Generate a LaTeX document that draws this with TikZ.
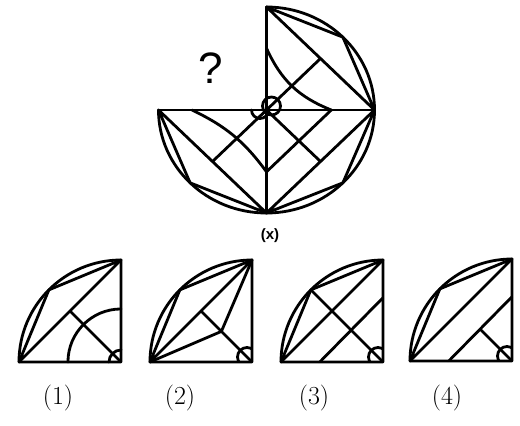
\documentclass[tikz,border=0pt]{standalone}
\usepackage{fontspec}
\setsansfont{Liberation Sans}
\usepackage{tikz}

\begin{document}
\begin{tikzpicture}[x=1pt, y=1pt,
    fig/.style={line width=2.8pt, line join=round, line cap=round},
    lab/.style={font=\fontsize{26}{28}\selectfont}]
    \useasboundingbox (0,0) rectangle (520,-426);

    % question figure
    \begin{scope}[shift={(266.5pt,-110pt)}, x=108pt, y=103pt, fig]
        \draw (0,1) arc[start angle=90, end angle=-180, radius=1];
        \draw (-1,0) -- (1,0);
        \draw (0,1) -- (0,-1);
        % chords near the arc
        \draw (0,1) -- (45:1) -- (1,0) -- cycle;
        \draw (1,0) -- (-45:1) -- (0,-1) -- cycle;
        \draw (-1,0) -- (-135:1) -- (0,-1) -- cycle;
        % lines from the centre
        \draw (0,0) -- (0.5,0.5);
        \draw (0,0) -- (0.5,-0.5);
        \draw (0,0) -- (-0.5,-0.5);
        % inner curves
        \draw (0,0.6) to[bend right=22] (0.6,0) -- (0,-0.6);
        \draw (-0.69,0) to[bend left=14] (0,-0.6);
        % small circles
        \draw (5pt,4pt) circle[radius=9pt];
        \draw (-15pt,0pt) arc[start angle=180, end angle=360, radius=8.5pt];
    \end{scope}
    \node[font=\sffamily\fontsize{44}{44}\selectfont] (ques) at (211,-68) {?};
    \node[font=\sffamily\bfseries\fontsize{15}{15}\selectfont] (xlab) at (270,-236) {(x)};

    % option 1
    \begin{scope}[shift={(121pt,-362pt)}, x=102pt, y=102pt, fig]
        \draw (-1,0) -- (0,0) -- (0,1) arc[start angle=90, end angle=180, radius=1];
        \draw (0,1) -- (135:1) -- (-1,0) -- cycle;
        \draw (0,0) -- (-0.5,0.5);
        \draw (-0.52,0) arc[start angle=180, end angle=90, radius=0.52];
        \draw (-12pt,0pt) arc[start angle=180, end angle=90, radius=12pt];
    \end{scope}

    % option 2
    \begin{scope}[shift={(252pt,-362pt)}, x=102pt, y=102pt, fig]
        \draw (-1,0) -- (0,0) -- (0,1) arc[start angle=90, end angle=180, radius=1];
        \draw (0,1) -- (135:1) -- (-1,0) -- cycle;
        \draw (0,0) -- (-0.5,0.5);
        \draw (0,1) -- (-0.3,0.3) -- (-1,0);
        \begin{scope}
            \clip (-1,0) rectangle (0,1);
            \draw (-5pt,5pt) circle[radius=9.5pt];
        \end{scope}
    \end{scope}

    % option 3
    \begin{scope}[shift={(383pt,-362pt)}, x=102pt, y=102pt, fig]
        \draw (-1,0) -- (0,0) -- (0,1) arc[start angle=90, end angle=180, radius=1];
        \draw (0,1) -- (135:1) -- (-1,0) -- cycle;
        \draw (0,0) -- (135:1);
        \draw (-0.62,0) -- (0,0.63);
        \begin{scope}
            \clip (-1,0) rectangle (0,1);
            \draw (-5pt,5pt) circle[radius=9.5pt];
        \end{scope}
    \end{scope}

    % option 4
    \begin{scope}[shift={(512pt,-361pt)}, x=102pt, y=102pt, fig]
        \draw (-1,0) -- (0,0) -- (0,1) arc[start angle=90, end angle=180, radius=1];
        \draw (0,1) -- (135:1) -- (-1,0) -- cycle;
        \draw (0,0) -- (-0.3125,0.3125);
        \draw (-0.62,0) -- (0,0.63);
        \begin{scope}
            \clip (-1,0) rectangle (0,1);
            \draw (-5pt,5pt) circle[radius=9.5pt];
        \end{scope}
    \end{scope}

    % labels
    \node[lab] (opt1) at (58,-398) {(1)};
    \node[lab] (opt2) at (180,-398) {(2)};
    \node[lab] (opt3) at (314,-398) {(3)};
    \node[lab] (opt4) at (447,-398) {(4)};
\end{tikzpicture}
\end{document}
